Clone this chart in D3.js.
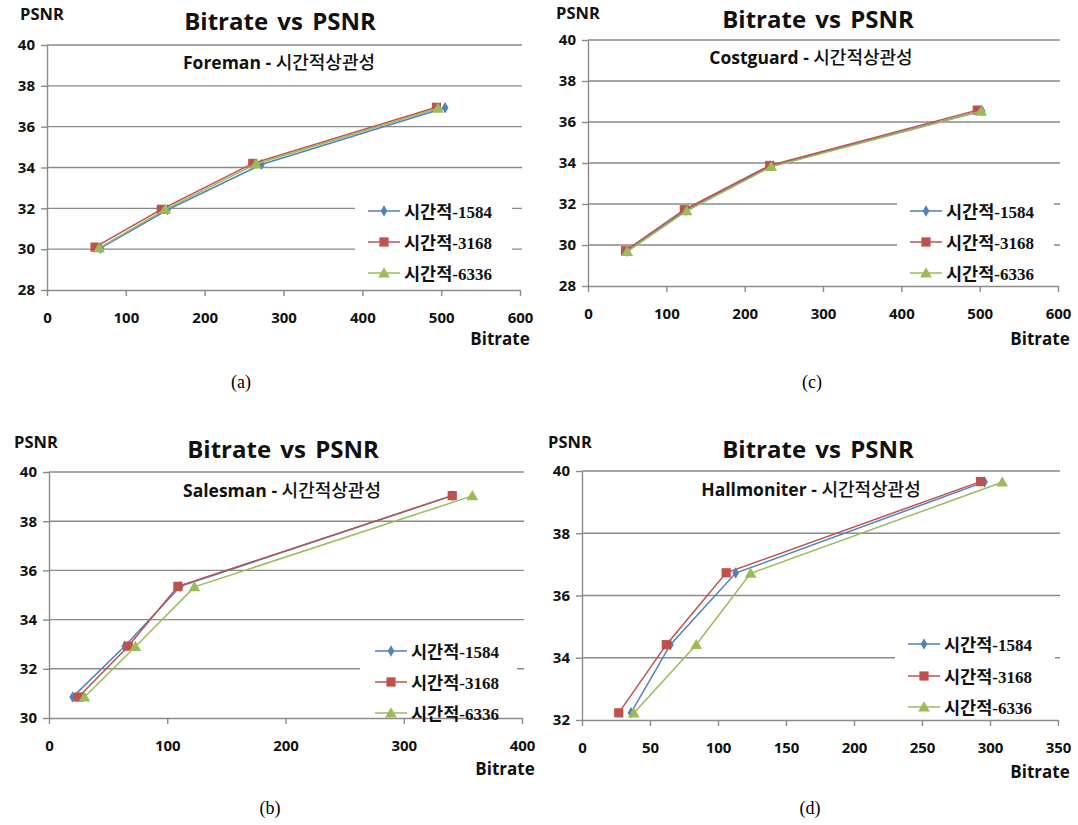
<!DOCTYPE html>
<html><head><meta charset="utf-8">
<script src="https://cdn.jsdelivr.net/npm/d3@7"></script>
<style>body{margin:0;background:#fff}</style>
</head><body>
<svg id="chart" width="1078" height="825" xmlns="http://www.w3.org/2000/svg"></svg>
<script>
// ---------- data ----------
const seriesNames = ["시간적-1584", "시간적-3168", "시간적-6336"];
const seriesDigits = ["-1584", "-3168", "-6336"];
const seriesKorean = "시간적";
const chartTitle = "Bitrate vs PSNR";
const subtitleKorean = "시간적상관성";
const xAxisTitle = "Bitrate";
const yAxisTitle = "PSNR";

// Foreman (a)  [bitrate, psnr]
const foreman1584 = [[68, 30.05], [153, 31.93], [272, 34.15], [505, 36.93]];
const foreman3168 = [[61, 30.10], [145, 31.95], [261, 34.20], [494, 36.95]];
const foreman6336 = [[66, 30.05], [150, 31.95], [265, 34.17], [496, 36.90]];
const foremanXTicks = [0, 100, 200, 300, 400, 500, 600];
const foremanYTicks = [28, 30, 32, 34, 36, 38, 40];

// Costguard (c)
const costguard1584 = [[50, 29.70], [125, 31.70], [233, 33.85], [503, 36.55]];
const costguard3168 = [[48, 29.72], [123, 31.72], [232, 33.88], [497, 36.58]];
const costguard6336 = [[50, 29.68], [126, 31.66], [234, 33.82], [502, 36.52]];
const costguardXTicks = [0, 100, 200, 300, 400, 500, 600];
const costguardYTicks = [28, 30, 32, 34, 36, 38, 40];

// Salesman (b)
const salesman1584 = [[20, 30.85], [64, 32.92], [111, 35.35], [341, 39.04]];
const salesman3168 = [[25, 30.85], [67, 32.92], [109, 35.35], [341, 39.04]];
const salesman6336 = [[30, 30.85], [73, 32.90], [123, 35.33], [358, 39.03]];
const salesmanXTicks = [0, 100, 200, 300, 400];
const salesmanYTicks = [30, 32, 34, 36, 38, 40];

// Hallmoniter (d)
const hall1584 = [[36, 32.23], [65, 34.42], [113, 36.72], [296, 39.65]];
const hall3168 = [[27, 32.23], [62, 34.42], [106, 36.73], [293, 39.66]];
const hall6336 = [[38, 32.22], [84, 34.42], [124, 36.71], [309, 39.64]];
const hallXTicks = [0, 50, 100, 150, 200, 250, 300, 350];
const hallYTicks = [32, 34, 36, 38, 40];

// ---------- styles ----------
const seriesColors = ["#4F81BD", "#C0504D", "#9BBB59"];
const seriesShapes = [d3.symbolDiamond, d3.symbolSquare, d3.symbolTriangle];
const shapeSizes = [38, 85, 60];
const gridColor = "#8A8A8A";
const latin = "'Open Sans', 'Noto Sans CJK KR', sans-serif";
const korean = "'Noto Sans CJK KR', sans-serif";

const panels = [
  { name: "Foreman", series: [foreman1584, foreman3168, foreman6336], xTicks: foremanXTicks, yTicks: foremanYTicks,
    left: 47, right: 520, top: 45, bottom: 290, title: [280, 22], psnr: [42, 14], sub: [279, 63], bitrate: [500, 339],
    legend: { x: 355, w: 157, y0: 196, y1: 289, lineX: 368, rows: [211, 242, 273] }, caption: ["(a)", 241, 382] },
  { name: "Costguard", series: [costguard1584, costguard3168, costguard6336], xTicks: costguardXTicks, yTicks: costguardYTicks,
    left: 588, right: 1058, top: 40, bottom: 286, title: [818, 20], psnr: [578, 13], sub: [811, 58], bitrate: [1040, 339],
    legend: { x: 897, w: 157, y0: 196, y1: 285, lineX: 910, rows: [211, 242, 273] }, caption: ["(c)", 812, 382] },
  { name: "Salesman", series: [salesman1584, salesman3168, salesman6336], xTicks: salesmanXTicks, yTicks: salesmanYTicks,
    left: 49, right: 522, top: 472, bottom: 718, title: [283, 450], psnr: [36, 442], sub: [282, 491], bitrate: [505, 769],
    legend: { x: 360, w: 157, y0: 636, y1: 716, lineX: 375, rows: [651, 682, 713] }, caption: ["(b)", 270, 808] },
  { name: "Hallmoniter", series: [hall1584, hall3168, hall6336], xTicks: hallXTicks, yTicks: hallYTicks,
    left: 582, right: 1058, top: 471, bottom: 720, title: [818, 450], psnr: [570, 442], sub: [811, 490], bitrate: [1040, 772],
    legend: { x: 895, w: 160, y0: 630, y1: 718, lineX: 908, rows: [644, 676, 707] }, caption: ["(d)", 810, 808] }
];

const svg = d3.select("#chart");

function drawPanel(p) {
  const g = svg.append("g");
  const x = d3.scaleLinear().domain([p.xTicks[0], p.xTicks[p.xTicks.length - 1]]).range([p.left, p.right]);
  const y = d3.scaleLinear().domain([p.yTicks[0], p.yTicks[p.yTicks.length - 1]]).range([p.bottom, p.top]);

  // gridlines
  g.selectAll("line.grid").data(p.yTicks.slice(1)).join("line").attr("class", "grid")
    .attr("x1", p.left).attr("x2", p.right + 2)
    .attr("y1", d => y(d)).attr("y2", d => y(d))
    .attr("stroke", gridColor).attr("stroke-width", 1.4);

  // y axis
  const ya = g.append("g").attr("transform", `translate(${p.left},0)`)
    .call(d3.axisLeft(y).tickValues(p.yTicks).tickSize(6).tickSizeOuter(0).tickPadding(6).tickFormat(d3.format("d")));
  // x axis
  const xa = g.append("g").attr("transform", `translate(0,${p.bottom})`)
    .call(d3.axisBottom(x).tickValues(p.xTicks).tickSize(6).tickSizeOuter(0).tickPadding(16).tickFormat(d3.format("d")));
  [ya, xa].forEach(a => {
    a.select(".domain").attr("stroke", gridColor).attr("stroke-width", 1.4);
    a.selectAll(".tick line").attr("stroke", gridColor).attr("stroke-width", 1.4);
    a.selectAll(".tick text").attr("fill", "#111").style("font-family", latin)
      .style("font-weight", "bold").style("font-size", "15px");
  });

  // legend background
  g.append("rect").attr("x", p.legend.x).attr("y", p.legend.y0)
    .attr("width", p.legend.w).attr("height", p.legend.y1 - p.legend.y0).attr("fill", "#fff");

  // series
  const line = d3.line().x(d => x(d[0])).y(d => y(d[1]));
  p.series.forEach((s, i) => {
    g.append("path").datum(s).attr("d", line).attr("fill", "none")
      .attr("stroke", seriesColors[i]).attr("stroke-width", 1.5);
    g.selectAll(null).data(s).join("path")
      .attr("d", d3.symbol(seriesShapes[i], shapeSizes[i])())
      .attr("transform", d => `translate(${x(d[0])},${y(d[1]) + (i === 2 ? 1 : 0)})`)
      .attr("fill", seriesColors[i]);
  });

  // legend entries
  seriesNames.forEach((nm, i) => {
    const ry = p.legend.rows[i];
    const lx = p.legend.lineX;
    g.append("line").attr("x1", lx).attr("x2", lx + 32).attr("y1", ry).attr("y2", ry)
      .attr("stroke", seriesColors[i]).attr("stroke-width", 1.5);
    g.append("path").attr("d", d3.symbol(seriesShapes[i], shapeSizes[i])())
      .attr("transform", `translate(${lx + 16},${ry + (i === 2 ? 1 : 0)})`).attr("fill", seriesColors[i]);
    const t = g.append("text").attr("x", lx + 36).attr("y", ry + 7).attr("fill", "#111");
    t.append("tspan").text(seriesKorean).style("font-family", korean).style("font-size", "17.5px").style("font-weight", "bold");
    t.append("tspan").text(seriesDigits[i]).style("font-family", "'Liberation Serif', serif").style("font-size", "17px").style("font-weight", "bold");
  });

  // titles
  g.append("text").attr("x", p.title[0]).attr("y", p.title[1] + 8).attr("text-anchor", "middle")
    .style("font-family", latin).style("font-weight", "bold").style("font-size", "24px")
    .style("word-spacing", "3px").attr("fill", "#111").text(chartTitle);
  const st = g.append("text").attr("x", p.sub[0]).attr("y", p.sub[1] + 6).attr("text-anchor", "middle").attr("fill", "#111");
  st.append("tspan").text(`${p.name} - `).style("font-family", latin).style("font-weight", "bold").style("font-size", "17.5px");
  st.append("tspan").text(subtitleKorean).style("font-family", korean).style("font-weight", "500").style("font-size", "18px");
  g.append("text").attr("x", p.psnr[0]).attr("y", p.psnr[1] + 6).attr("text-anchor", "middle")
    .style("font-family", latin).style("font-weight", "bold").style("font-size", "16.5px")
    .attr("fill", "#111").text(yAxisTitle);
  g.append("text").attr("x", p.bitrate[0]).attr("y", p.bitrate[1] + 6).attr("text-anchor", "middle")
    .style("font-family", latin).style("font-weight", "bold").style("font-size", "17px")
    .attr("fill", "#111").text(xAxisTitle);
  g.append("text").attr("x", p.caption[1]).attr("y", p.caption[2] + 6).attr("text-anchor", "middle")
    .style("font-family", "'Liberation Serif', serif").style("font-size", "18px")
    .attr("fill", "#000").text(p.caption[0]);
}

panels.forEach(drawPanel);
</script>
</body></html>
